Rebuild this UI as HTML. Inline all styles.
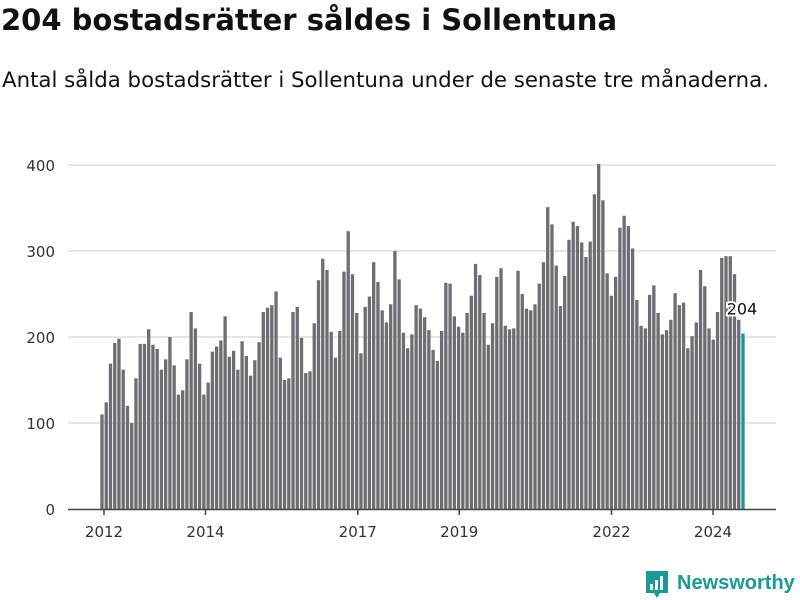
<!DOCTYPE html>
<html><head><meta charset="utf-8"><style>
body{margin:0;width:800px;height:600px;background:#fff;font-family:"DejaVu Sans","Liberation Sans",sans-serif;overflow:hidden;position:relative}
h1{position:absolute;left:1px;top:3px;margin:0;font-size:29px;font-weight:bold;color:#111;letter-spacing:0}
p{position:absolute;left:2px;top:68px;margin:0;font-size:21.3px;color:#111}
svg{position:absolute;left:0;top:0}
</style></head><body>
<h1>204 bostadsrätter såldes i Sollentuna</h1>
<p>Antal sålda bostadsrätter i Sollentuna under de senaste tre månaderna.</p>
<svg id="chart" width="800" height="600"></svg>
<script>
const values=[110,124,169,193,198,162,120,100,152,192,192,209,191,186,162,174,200,167,133,138,174,229,210,169,133,147,183,189,196,224,177,184,162,195,178,155,173,194,229,234,237,253,176,150,152,229,235,199,
158,160,216,266,291,278,206,176,207,276,323,273,228,181,235,247,287,264,231,217,238,300,267,205,187,203,237,233,223,208,185,172,207,263,262,224,212,205,228,248,285,272,228,191,216,270,280,213,209,210,277,250,233,231,238,262,287,351,331,283,236,271,313,334,329,310,293,311,366,401,359,274,248,270,327,341,329,303,243,213,210,249,260,228,203,208,220,251,237,240,187,201,217,278,259,210,197,229,292,294,294,273,220,204];
const yTicks=[0,100,200,300,400];
const xTickYears=[2012,2014,2017,2019,2022,2024];
const NS="http://www.w3.org/2000/svg";
const svg=document.getElementById('chart');
const y0=509,yPer=(509-165)/400;
const yScale=v=>y0-v*yPer;
const firstX=102,lastX=743;
const step=(lastX-firstX)/(values.length-1);
const xScale=i=>firstX+i*step;
const yearX=yr=>104+(yr-2012)*50.75;
function mk(t,a){const e=document.createElementNS(NS,t);for(const k in a)e.setAttribute(k,a[k]);svg.appendChild(e);return e;}
yTicks.forEach(v=>{
  if(v>0){const g=mk('line',{x1:68,x2:776,y1:yScale(v),y2:yScale(v),stroke:'#dedede','stroke-width':1.5});
  
  }
  const t=mk('text',{x:55,y:yScale(v)+6,'text-anchor':'end','font-size':15,fill:'#333'});
  t.textContent=v;
  
  
});
const bw=step*0.78;
values.forEach((v,i)=>{
  const last=i===values.length-1;
  const r=mk('rect',{x:xScale(i)-bw/2,y:yScale(v),width:bw,height:y0-yScale(v),fill:last?'#1a9a94':'#6e6d73'});
  
  
});
const ax=mk('line',{x1:68,x2:776,y1:y0+0.5,y2:y0+0.5,stroke:'#444','stroke-width':1.5});


xTickYears.forEach(yr=>{
  const x=yearX(yr);
  const tk=mk('line',{x1:x,x2:x,y1:y0,y2:y0+6,stroke:'#444','stroke-width':1.5});
  
  
  const t=mk('text',{x:x,y:537,'text-anchor':'middle','font-size':15,fill:'#333'});
  t.textContent=yr;
  
  
});
const lv=values[values.length-1];
const lbl=mk('text',{x:xScale(values.length-1)-1,y:yScale(lv)-19,'text-anchor':'middle','font-size':16,fill:'#111',stroke:'#fff','stroke-width':4,'paint-order':'stroke'});
lbl.textContent=lv;


const lg=mk('g',{});


const ic=document.createElementNS(NS,'path');
ic.setAttribute('d','M646 571h22v22h-8l-3 5-3-5h-8z');ic.setAttribute('fill','#1a9a94');lg.appendChild(ic);
[[650,584,3,6],[655,580,3,10],[660,576,3,14]].forEach(b=>{const r=document.createElementNS(NS,'rect');r.setAttribute('x',b[0]);r.setAttribute('y',b[1]);r.setAttribute('width',b[2]);r.setAttribute('height',b[3]);r.setAttribute('fill','#fff');lg.appendChild(r);});
const lt=document.createElementNS(NS,'text');
lt.setAttribute('x',677);lt.setAttribute('y',589);lt.setAttribute('font-size',20);lt.setAttribute('font-weight','bold');lt.setAttribute('font-family','Liberation Sans, sans-serif');lt.setAttribute('fill','#1a9a94');lt.textContent='Newsworthy';lg.appendChild(lt);
</script>
</body></html>
